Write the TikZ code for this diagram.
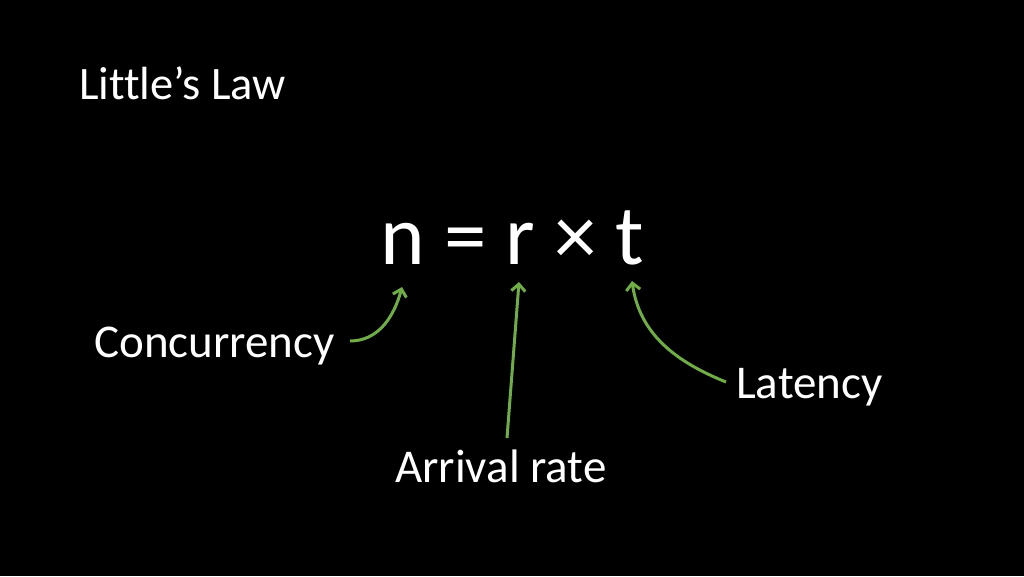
\documentclass[tikz,border=0pt]{standalone}
\usepackage{fontspec}
\setmainfont{Carlito}[Ligatures=NoCommon]
\usetikzlibrary{arrows.meta}
\definecolor{arrowgreen}{HTML}{70AD47}
\tikzset{
  lbl/.style={text=white, inner sep=0pt, anchor=base west, font=\fontsize{47}{56}\selectfont},
  ttl/.style={text=white, inner sep=0pt, anchor=base west, font=\fontsize{46.5}{56}\selectfont},
  eqn/.style={text=white, inner sep=0pt, anchor=base west, font=\fontsize{85}{100}\selectfont},
  pointer/.style={draw=arrowgreen, line width=3pt, -{Straight Barb[length=7pt,width=14pt,line width=3pt]}}
}
\begin{document}
\begin{tikzpicture}[x=1pt,y=-1pt]
  \fill[black] (0,0) rectangle (1024,576);
  \useasboundingbox (0,0) rectangle (1024,576);
  \node[ttl] (title) at (79,99) {Little’s Law};
  \node[eqn] (eq) at (380,264) {n = r × t};
  \node[lbl] (conc) at (94,357) {Concurrency};
  \node[lbl] (arr) at (395,482) {Arrival rate};
  \node[lbl] (lat) at (736,398) {Latency};
  \coordinate (cs) at (350,341);
  \coordinate (ct) at (402,287);
  \coordinate (as) at (507,438);
  \coordinate (at) at (519,282);
  \coordinate (ls) at (726,382);
  \coordinate (lt) at (632,281);
  \draw[pointer] (cs) to[out=0,in=-105] (ct);
  \draw[pointer] (as) -- (at);
  \draw[pointer] (ls) to[out=158,in=-82] (lt);
\end{tikzpicture}
\end{document}
